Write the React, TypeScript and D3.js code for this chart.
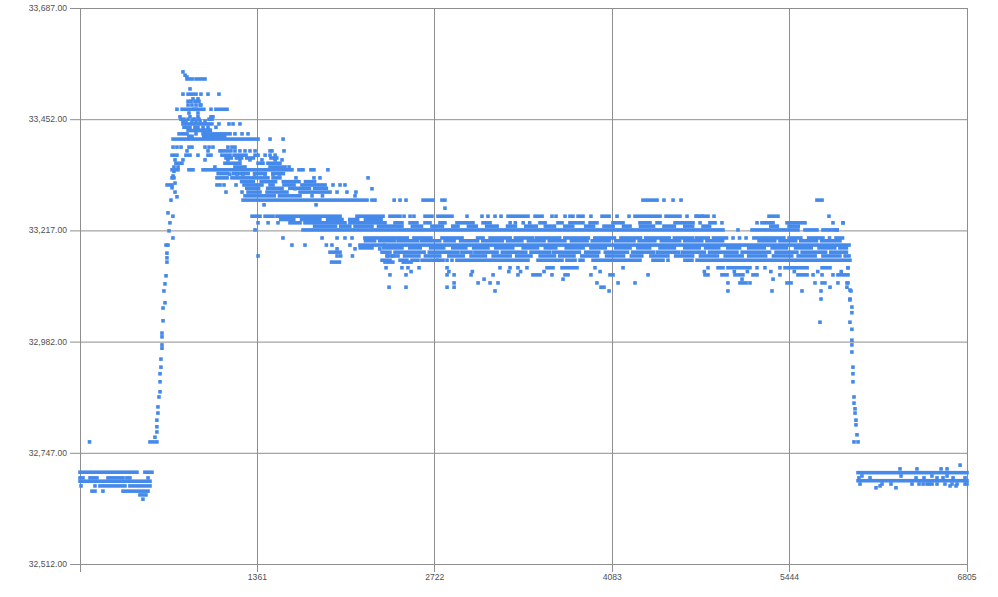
import * as d3 from "d3";
import { useEffect, useRef } from "react";

const xTicks = [0, 1361, 2722, 4083, 5444, 6805];
const yTicks = [32512, 32747, 32982, 33217, 33452, 33687];

// solid stretches where readings overlap: [value, fromSample, toSample]
const solidRuns: number[][] = [
  [32706, 0, 437], [32706, 498, 552], [32687, 0, 537], [32694, 0, 23], [32694, 77, 130], [32694, 215, 330], [32694, 360, 383],
  [32677, 153, 345], [32677, 383, 537], [32666, 92, 115], [32666, 330, 522], [32658, 460, 506],
  [32770, 537, 590],
  [33537, 821, 860], [33537, 890, 959], [33505, 829, 890], [33473, 783, 860], [33473, 875, 950], [33473, 1043, 1128],
  [33442, 790, 1012], [33435, 798, 844], [33435, 882, 905], [33421, 760, 821], [33421, 944, 1151],
  [33416, 950, 1110], [33428, 850, 1000],
  [33410, 714, 1304], [33410, 1327, 1366],
  [33376, 706, 744], [33376, 813, 844], [33376, 982, 1005], [33376, 1089, 1151], [33376, 1182, 1274], [33376, 1343, 1366],
  [33359, 736, 782], [33359, 1112, 1227], [33359, 1366, 1404], [33359, 1442, 1534],
  [33351, 1189, 1266], [33351, 1458, 1573],
  [33345, 706, 752], [33345, 836, 867], [33345, 944, 959], [33345, 982, 1626], [33345, 1680, 1711], [33345, 1772, 1795],
  [33328, 1051, 1074], [33328, 1097, 1128], [33328, 1166, 1442], [33328, 1481, 1534],
  [33313, 668, 706], [33313, 1051, 1074], [33313, 1258, 1396], [33313, 1458, 1481], [33313, 1565, 1642], [33313, 1703, 1726], [33313, 1749, 1880],
  [33298, 1289, 1381], [33298, 1435, 1588], [33298, 1688, 1918],
  [33290, 1266, 1490], [33290, 1530, 1688],
  [33281, 1251, 2125], [33281, 2148, 2202], [33281, 2632, 2708], [33281, 2777, 2800], [33281, 4319, 4427], [33281, 5654, 5693],
  [33247, 1320, 1381], [33247, 1420, 1481], [33247, 1511, 1995], [33247, 2125, 2325], [33247, 2378, 2455], [33247, 2647, 2700],
  [33247, 2746, 2854], [33247, 3284, 3437], [33247, 3491, 3545], [33247, 3759, 3782], [33247, 3821, 3859], [33247, 4005, 4059],
  [33247, 4258, 4450], [33247, 4496, 4603], [33247, 4726, 4818], [33247, 5286, 5355],
  [33233, 1611, 1688], [33233, 1726, 2033], [33233, 2071, 2340], [33233, 2417, 2470], [33233, 2532, 2585], [33233, 2647, 2685],
  [33233, 2762, 2800], [33233, 2892, 3015], [33233, 3092, 3146], [33233, 3529, 3568], [33233, 3667, 3698], [33233, 3759, 3859],
  [33233, 3913, 3966], [33233, 4089, 4166], [33233, 4296, 4373], [33233, 4427, 4450], [33233, 4565, 4703], [33233, 4833, 4872],
  [33233, 5232, 5317], [33233, 5424, 5562],
  [33218, 1711, 4933], [33218, 5156, 5508], [33218, 5562, 5654], [33218, 5700, 5808],
  [33201, 2186, 2510], [33201, 2562, 2693], [33201, 2777, 2931], [33201, 3050, 3092], [33201, 3146, 3300], [33201, 3340, 3470],
  [33201, 3500, 3680], [33201, 3720, 3900], [33201, 3950, 4100], [33201, 4150, 4300], [33201, 4340, 4520], [33201, 4560, 4700],
  [33201, 4730, 4820], [33201, 4860, 4960], [33201, 5170, 5400], [33201, 5440, 5530], [33201, 5590, 5700], [33201, 5800, 5850],
  [33186, 2148, 2325], [33186, 2340, 5900],
  [33171, 1918, 1995], [33171, 2317, 2378], [33171, 2417, 2640], [33171, 2680, 2900], [33171, 2930, 3000], [33171, 3030, 3200],
  [33171, 3240, 3420], [33171, 3460, 3600], [33171, 3630, 3830], [33171, 3880, 3980], [33171, 4030, 4200], [33171, 4240, 4400],
  [33171, 4430, 4590], [33171, 4620, 4790], [33171, 4830, 5040], [33171, 5080, 5290], [33171, 5340, 5500], [33171, 5540, 5720], [33171, 5760, 5880],
  [33154, 2317, 2378], [33154, 2455, 2508], [33154, 2547, 2593], [33154, 2624, 2685], [33154, 2708, 2739], [33154, 2746, 2785],
  [33154, 2892, 3107], [33154, 3130, 3437], [33154, 3514, 3698], [33154, 3736, 3798], [33154, 3836, 3859], [33154, 3936, 4296],
  [33154, 4396, 4473], [33154, 4641, 4695], [33154, 4734, 5907],
  [33138, 3583, 3629], [33138, 3721, 3813], [33138, 4895, 4933], [33138, 4971, 5140], [33138, 5409, 5578], [33138, 5693, 5754],
  [33123, 3475, 3529], [33123, 3721, 3744], [33123, 4066, 4089], [33123, 4925, 4964], [33123, 5025, 5086], [33123, 5163, 5194],
  [33123, 5508, 5578], [33123, 5815, 5869],
  [33106, 5063, 5110], [33106, 5424, 5455], [33106, 5693, 5715], [33097, 3997, 4020],
  [32705, 5969, 6805], [32688, 5969, 6805],
];

// broken pieces between the main levels: [value, fromSample, toSample]
const fragmentRuns: number[][] = [
  [33370, 1120, 1160], [33370, 1200, 1240], [33370, 1280, 1330], [33370, 1465, 1510],
  [33337, 1060, 1130], [33337, 1180, 1290], [33337, 1340, 1420], [33337, 1480, 1560],
  [33320, 1240, 1330], [33320, 1390, 1500], [33320, 1560, 1680], [33320, 1730, 1800],
  [33306, 1280, 1370], [33306, 1440, 1540], [33306, 1610, 1760], [33306, 1800, 1890],
  [33240, 1540, 1640], [33240, 1700, 1840], [33240, 1900, 2010], [33240, 2070, 2130], [33240, 2190, 2310],
  [33226, 1800, 1960], [33226, 2000, 2070], [33226, 2110, 2240], [33226, 2290, 2470], [33226, 2550, 2620],
  [33226, 2700, 2780], [33226, 2860, 2900], [33226, 2980, 3040], [33226, 3120, 3200], [33226, 3280, 3340],
  [33226, 3420, 3500], [33226, 3570, 3640], [33226, 3720, 3780], [33226, 3880, 3940], [33226, 4020, 4090],
  [33226, 4170, 4220], [33226, 4300, 4400], [33226, 4480, 4560], [33226, 4640, 4700], [33226, 4780, 4830],
  [33226, 5300, 5350], [33226, 5440, 5510],
  [33195, 2190, 2260], [33195, 2300, 2410], [33195, 2440, 2590], [33195, 2620, 2760], [33195, 2800, 2870], [33195, 2920, 3050],
  [33195, 3090, 3240], [33195, 3280, 3390], [33195, 3440, 3560], [33195, 3600, 3720], [33195, 3770, 3890], [33195, 3930, 4060],
  [33195, 4110, 4250], [33195, 4290, 4410], [33195, 4460, 4600], [33195, 4640, 4770], [33195, 4810, 4930], [33195, 5210, 5330],
  [33195, 5370, 5490], [33195, 5530, 5650], [33195, 5690, 5830],
  [33180, 2150, 2240], [33180, 2330, 2470], [33180, 2530, 2610], [33180, 2690, 2790], [33180, 2860, 2960], [33180, 3020, 3130],
  [33180, 3190, 3320], [33180, 3400, 3510], [33180, 3570, 3650], [33180, 3730, 3860], [33180, 3920, 4030], [33180, 4110, 4220],
  [33180, 4280, 4370], [33180, 4450, 4560], [33180, 4640, 4750], [33180, 4800, 4900], [33180, 4970, 5060], [33180, 5130, 5250],
  [33180, 5310, 5420], [33180, 5490, 5610], [33180, 5670, 5790], [33180, 5830, 5880],
  [33163, 2360, 2440], [33163, 2490, 2600], [33163, 2650, 2760], [33163, 2830, 2940], [33163, 3000, 3110], [33163, 3170, 3300],
  [33163, 3350, 3460], [33163, 3530, 3640], [33163, 3680, 3790], [33163, 3850, 3970], [33163, 4040, 4170], [33163, 4230, 4310],
  [33163, 4380, 4510], [33163, 4570, 4700], [33163, 4760, 4890], [33163, 4950, 5080], [33163, 5130, 5260], [33163, 5320, 5460],
  [33163, 5510, 5640], [33163, 5700, 5830], [33163, 5870, 5900],
  [33150, 1930, 1990], [33150, 2340, 2400], [33150, 2480, 2540],
];

// single readings per level: [value, sample, sample, ...]
const scatterRows: number[][] = [
  [33552, 790], [33545, 806], [33541, 821], [33516, 844],
  [33505, 790, 928, 982, 1066], [33495, 867, 905], [33490, 829, 852, 882, 905, 913], [33482, 829, 859, 890, 921, 928],
  [33473, 744, 890, 1005],
  [33465, 836, 905], [33457, 767, 844, 905, 1005, 1020], [33452, 775, 798, 829, 867, 882, 913, 990, 1012],
  [33448, 790, 813, 859, 890, 921, 959], [33442, 1066, 1143, 1174, 1227], [33435, 944, 982, 1043],
  [33429, 829, 913, 959, 997], [33421, 890, 959, 1189, 1243, 1289], [33416, 836, 859, 1012, 1074, 1105],
  [33410, 1458, 1558], [33393, 714, 744, 775, 836, 859, 959, 990, 1020, 1135, 1166, 1189],
  [33385, 821, 982, 1074, 1089, 1112, 1135, 1158, 1189, 1227, 1266, 1304, 1343, 1458, 1473, 1565],
  [33376, 905, 1420, 1458, 1497], [33366, 729, 790, 959, 1135, 1227, 1304, 1396, 1497, 1550],
  [33351, 721, 752, 1035, 1604], [33345, 1902], [33336, 1150, 1205, 1250, 1340, 1420, 1480, 1530],
  [33328, 721, 1657, 1795, 1841, 2210], [33313, 1105, 1197, 1941, 1995, 2033], [33305, 1550, 1650, 2240],
  [33298, 1120, 1243, 1972, 2048, 2117], [33290, 1780, 1860, 2110],
  [33281, 2240, 2263, 2410, 2455, 2501, 4480, 4550, 4611], [33271, 1412, 1811], [33264, 2800],
  [33247, 2486, 2532, 2562, 2969, 3084, 3130, 3184, 3230, 3621, 3652, 3721, 3920, 4120, 4212, 4657, 4734, 4772, 4864, 5746],
  [33233, 1366, 1443, 1519, 3300, 3340, 3400, 3450, 4757, 4925, 5194, 5777, 5854],
  [33218, 1343, 5048], [33201, 1557, 1857, 1972, 2033, 2087, 5010, 5060, 5110, 5750],
  [33186, 1626, 1726, 1890, 1933, 2071], [33178, 1972, 2110, 2300], [33163, 1366, 1972, 2000, 2090, 2355, 2400],
  [33154, 2816, 2854, 4511],
  [33138, 2348, 2470, 2516, 2601, 2816, 3222, 3299, 3360, 3429, 3698, 3951, 4166, 4818, 5194, 5255, 5370, 5892],
  [33130, 2540, 2830, 3010, 3290, 3380, 3560, 3990, 4790, 5020, 5120, 5300, 5480, 5660, 5840],
  [33123, 2378, 2501, 2816, 2870, 3000, 3169, 3360, 3621, 3920, 4358, 4795, 4818, 5370, 5624, 5693, 5777],
  [33114, 3100, 3706, 5079, 5317], [33106, 2870, 3054, 3146, 3207, 3966, 4128, 4258, 4971, 5140, 5639, 5815, 5892],
  [33097, 2371, 2501, 2816, 2870, 5754, 5884], [33089, 3184, 4059, 4971, 5309, 5539, 5685, 5915], [33072, 5685, 5907], [33023, 5677],
  [32770, 73], [32694, 522], [32677, 8, 115], [32666, 176], [32649, 483],
  [32721, 6752], [32713, 6291, 6421, 6606, 6652], [32698, 5999, 6299, 6536, 6652],
  [32694, 5976, 6061, 6414, 6475, 6575, 6621, 6698, 6790],
  [32681, 5984, 6153, 6222, 6383, 6437, 6468, 6498, 6518, 6537, 6575, 6636, 6690, 6729, 6790, 6805],
  [32677, 6138, 6675, 6721], [32673, 6107, 6260],
];

// the climb after the first plateau: [sample, value]
const risePoints: number[][] = [
  [575, 32780], [590, 32791], [590, 32802], [590, 32816], [598, 32831], [598, 32844], [606, 32865], [614, 32876], [614, 32897],
  [614, 32914], [621, 32928], [621, 32945], [629, 32968], [629, 32975], [629, 32992], [629, 33000], [637, 33026], [637, 33053],
  [652, 33064], [644, 33089], [652, 33104], [660, 33121], [667, 33150], [667, 33159], [667, 33169], [660, 33186], [675, 33186],
  [713, 33201], [683, 33216], [690, 33233], [713, 33247], [675, 33254], [698, 33281], [729, 33298], [744, 33288], [706, 33307],
  [706, 33328], [729, 33317], [714, 33332], [721, 33342],
];

// the drop before the last plateau: [sample, value]
const fallPoints: number[][] = [
  [5854, 33233], [5808, 33218], [5892, 33138], [5892, 33123], [5884, 33106], [5907, 33091], [5907, 33070], [5922, 33055],
  [5922, 33043], [5907, 33023], [5922, 33008], [5922, 32985], [5922, 32975], [5922, 32960], [5930, 32928], [5930, 32914],
  [5930, 32897], [5938, 32865], [5938, 32852], [5946, 32840], [5946, 32831], [5953, 32816], [5953, 32806], [5961, 32785],
  [5969, 32770], [5938, 32770],
];

export default function App() {
  const ref = useRef<SVGSVGElement>(null);

  useEffect(() => {
    if (!ref.current) return;
    const svg = d3.select(ref.current);
    svg.selectAll("*").remove();

    const left = 80;
    const right = 967;
    const top = 8;
    const bottom = 564;
    const dot = 3.6;
    const blue = "#4589ea";
    const gridColor = "#8e8e8e";
    const textColor = "#505050";

    const x = d3.scaleLinear().domain([0, 6805]).range([left, right]);
    const y = d3.scaleLinear().domain([32512, 33687]).range([bottom, top]);

    // Grid and tick stubs
    svg.append("g")
      .selectAll("line")
      .data(yTicks)
      .join("line")
      .attr("x1", left - 10)
      .attr("x2", right)
      .attr("y1", d => y(d) + 0.5)
      .attr("y2", d => y(d) + 0.5)
      .attr("stroke", gridColor);
    svg.append("g")
      .selectAll("line")
      .data(xTicks)
      .join("line")
      .attr("x1", d => Math.floor(x(d)) + 0.5)
      .attr("x2", d => Math.floor(x(d)) + 0.5)
      .attr("y1", top)
      .attr("y2", bottom + 8)
      .attr("stroke", gridColor);

    // Labels
    svg.append("g")
      .selectAll("text")
      .data(yTicks)
      .join("text")
      .attr("x", left - 13)
      .attr("y", d => y(d))
      .attr("dy", "0.35em")
      .attr("text-anchor", "end")
      .attr("font-family", "'Liberation Sans', sans-serif")
      .attr("font-size", 8.6)
      .attr("fill", textColor)
      .text(d => d3.format(",.2f")(d));
    svg.append("g")
      .selectAll("text")
      .data(xTicks.slice(1))
      .join("text")
      .attr("x", d => x(d))
      .attr("y", bottom + 13)
      .attr("dy", "0.35em")
      .attr("text-anchor", "middle")
      .attr("font-family", "'Liberation Sans', sans-serif")
      .attr("font-size", 8.6)
      .attr("fill", textColor)
      .text(d => d);

    // Overlapping readings
    svg.append("g")
      .selectAll("rect")
      .data([...solidRuns, ...fragmentRuns])
      .join("rect")
      .attr("x", d => x(d[1]) - dot / 2)
      .attr("y", d => y(d[0]) - dot / 2)
      .attr("width", d => x(d[2]) - x(d[1]) + dot)
      .attr("height", dot)
      .attr("fill", blue);

    // Single readings
    const singles = [
      ...scatterRows.flatMap(row => row.slice(1).map(s => [s, row[0]])),
      ...risePoints,
      ...fallPoints,
    ];
    svg.append("g")
      .selectAll("rect")
      .data(singles)
      .join("rect")
      .attr("x", d => x(d[0]) - dot / 2)
      .attr("y", d => y(d[1]) - dot / 2)
      .attr("width", dot)
      .attr("height", dot)
      .attr("fill", blue);
  }, []);

  return <svg ref={ref} width={998} height={597} style={{ position: "absolute", left: 0, top: 0, background: "#fff" }} />;
}
